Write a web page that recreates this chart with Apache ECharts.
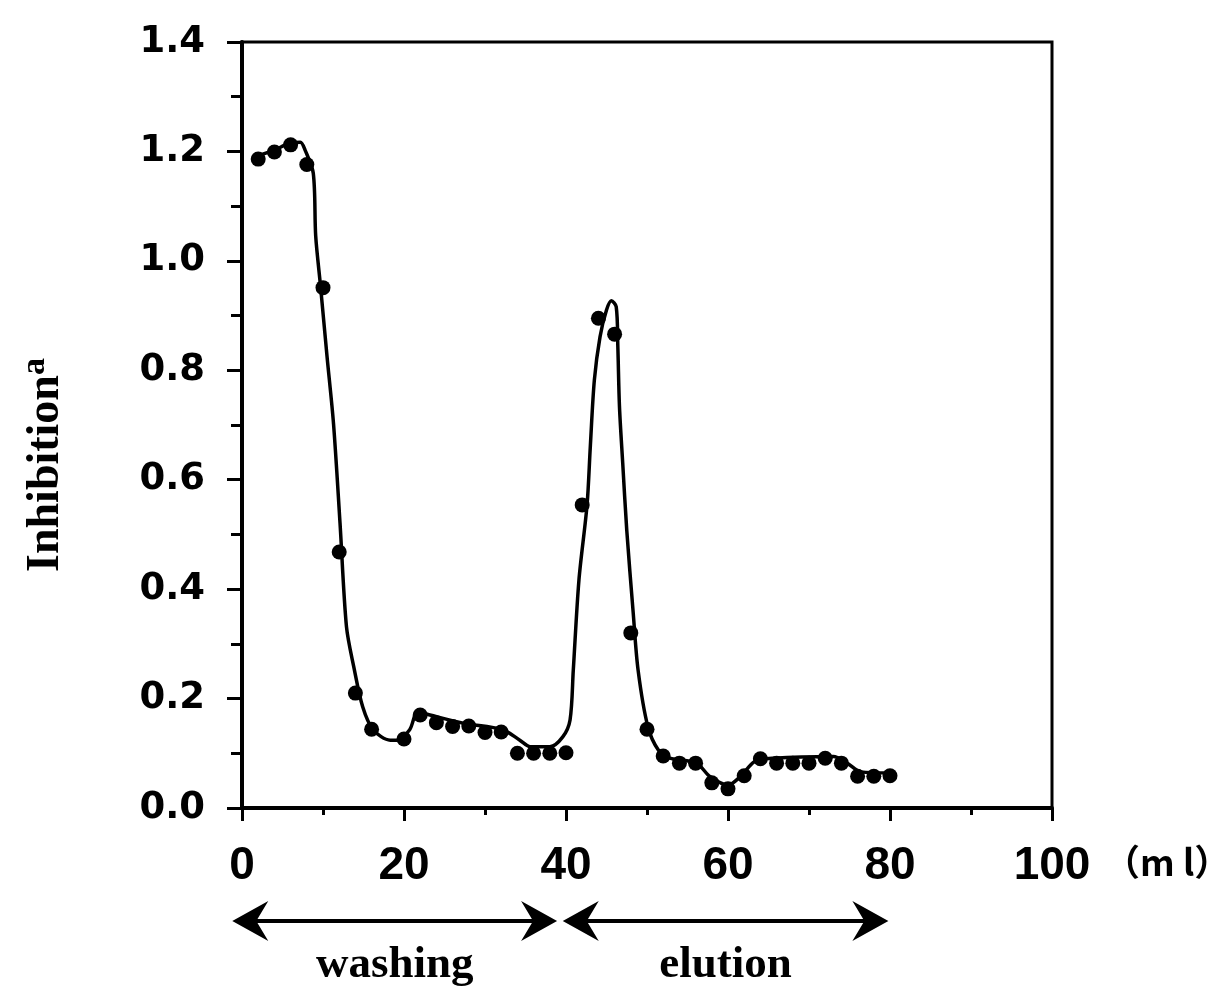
<!DOCTYPE html>
<html>
<head>
<meta charset="utf-8">
<title>Inhibition</title>
<script src="https://cdn.jsdelivr.net/npm/echarts@6/dist/echarts.min.js"></script>
<style>
  html, body { margin: 0; padding: 0; background: #fff; }
  #chart { width: 1229px; height: 1000px; }
</style>
</head>
<body>
<div id="chart"></div>
<script>
// measured fractions (ml, inhibition)
const volume = [2, 4, 6, 8, 10, 12, 14, 16,
  20, 22, 24, 26, 28, 30, 32, 34, 36, 38, 40,
  42, 44, 46, 48, 50, 52, 54, 56, 58, 60,
  62, 64, 66, 68, 70, 72, 74, 76, 78, 80]
const inhibition = [1.186, 1.199, 1.212, 1.176, 0.951, 0.468, 0.210, 0.144,
  0.126, 0.170, 0.156, 0.149, 0.150, 0.138, 0.139, 0.100, 0.100, 0.100, 0.101,
  0.554, 0.895, 0.866, 0.320, 0.144, 0.095, 0.082, 0.082, 0.046, 0.035,
  0.059, 0.090, 0.082, 0.082, 0.082, 0.091, 0.082, 0.058, 0.058, 0.059]

// fitted curve
const curveVolume = [1.4, 4.1, 6.0, 7.2, 7.8, 8.8, 9.1, 9.7, 10.5,
  11.3, 12.1, 12.9, 13.8, 14.9, 16.2, 18.3, 19.1, 20.7, 21.7,
  23.2, 27.3, 32.2, 34.3, 35.6, 38.0, 39.6, 40.5, 40.9, 41.6,
  42.6, 43.0, 43.5, 44.2, 45.0, 45.6, 46.2, 46.4, 46.6, 47.0,
  47.5, 48.3, 48.9, 50.1, 51.4, 52.8, 56.1, 57.8, 60.0, 61.5,
  63.3, 65.6, 73.0, 74.7, 76.4, 80.0]
const curveInhibition = [1.190, 1.203, 1.216, 1.217, 1.202, 1.160, 1.045, 0.953, 0.825,
  0.702, 0.521, 0.331, 0.258, 0.185, 0.143, 0.124, 0.124, 0.143, 0.176,
  0.170, 0.155, 0.143, 0.124, 0.112, 0.112, 0.130, 0.161, 0.252, 0.417,
  0.554, 0.660, 0.782, 0.861, 0.910, 0.927, 0.916, 0.843, 0.734, 0.631,
  0.508, 0.356, 0.252, 0.149, 0.106, 0.091, 0.082, 0.057, 0.042, 0.057,
  0.085, 0.091, 0.094, 0.082, 0.066, 0.064]

// phase arrows under the x axis (ml)
const phaseNames = ['washing', 'elution']
const phaseStart = [-1.2, 39.6]
const phaseEnd = [38.9, 79.8]

const INK = '#000'
const ARROW_Y = 921
const PHASE_TEXT_Y = 965

const chart = echarts.init(document.getElementById('chart'))

const points = volume.map((v, i) => [v, inhibition[i]])
const curve = curveVolume.map((v, i) => [v, curveInhibition[i]])

chart.setOption({
  backgroundColor: '#fff',
  animation: false,
  grid: {
    left: 242,
    top: 42,
    width: 810,
    height: 766,
    outerBoundsMode: 'none',
    show: true,
    borderColor: INK,
    borderWidth: 3
  },
  xAxis: {
    type: 'value',
    min: 0,
    max: 100,
    interval: 20,
    name: '（m l）',
    nameLocation: 'end',
    nameGap: 52,
    nameTextStyle: {
      fontFamily: 'Noto Sans CJK SC',
      fontWeight: 'bold',
      fontSize: 36,
      color: INK,
      verticalAlign: 'top',
      padding: [36, 0, 0, 0]
    },
    axisLine: { lineStyle: { color: INK, width: 4 } },
    axisTick: { length: 13, lineStyle: { color: INK, width: 3 } },
    minorTick: { show: true, splitNumber: 2, length: 7, lineStyle: { color: INK, width: 3 } },
    splitLine: { show: false },
    axisLabel: {
      margin: 35,
      fontFamily: '"Liberation Sans Narrow", "Liberation Sans"',
      fontWeight: 'bold',
      fontSize: 46,
      color: INK
    }
  },
  yAxis: {
    type: 'value',
    min: 0,
    max: 1.4,
    interval: 0.2,
    name: '{m|Inhibition}{s|a}',
    nameLocation: 'middle',
    nameRotate: 90,
    nameGap: 168,
    nameTextStyle: {
      padding: [0, 80, 0, 0],
      rich: {
        m: { fontFamily: '"Liberation Serif"', fontWeight: 'bold', fontSize: 46, color: INK, lineHeight: 56 },
        s: { fontFamily: '"Liberation Serif"', fontWeight: 'bold', fontSize: 34, color: INK, verticalAlign: 'top', lineHeight: 34 }
      }
    },
    axisLine: { lineStyle: { color: INK, width: 4 } },
    axisTick: { length: 15, lineStyle: { color: INK, width: 3 } },
    minorTick: { show: true, splitNumber: 2, length: 11, lineStyle: { color: INK, width: 3 } },
    splitLine: { show: false },
    axisLabel: {
      margin: 37,
      fontFamily: '"DejaVu Sans"',
      fontWeight: 'bold',
      fontSize: 37,
      color: INK,
      formatter: v => v.toFixed(1)
    }
  },
  series: [
    {
      name: 'fit',
      type: 'line',
      data: curve,
      smooth: 0.3,
      showSymbol: false,
      lineStyle: { color: INK, width: 3.5 },
      z: 2
    },
    {
      name: 'fractions',
      type: 'scatter',
      data: points,
      symbol: 'circle',
      symbolSize: 15,
      itemStyle: { color: INK, opacity: 1 },
      z: 3
    }
  ]
})

// arrows + phase labels, anchored to the x scale
const drawPhases = () => {
  const els = []
  phaseNames.forEach((name, i) => {
    const a = chart.convertToPixel({ gridIndex: 0 }, [phaseStart[i], 0])[0]
    const b = chart.convertToPixel({ gridIndex: 0 }, [phaseEnd[i], 0])[0]
    const y = ARROW_Y
    els.push({
      type: 'line',
      shape: { x1: a + 20, y1: y, x2: b - 20, y2: y },
      style: { stroke: INK, lineWidth: 4 }
    })
    els.push({
      type: 'polygon',
      shape: { points: [[a, y], [a + 36, y - 20], [a + 24, y], [a + 36, y + 20]] },
      style: { fill: INK }
    })
    els.push({
      type: 'polygon',
      shape: { points: [[b, y], [b - 36, y - 20], [b - 24, y], [b - 36, y + 20]] },
      style: { fill: INK }
    })
    els.push({
      type: 'text',
      x: (a + b) / 2,
      y: PHASE_TEXT_Y,
      style: {
        text: name,
        fontFamily: '"Liberation Serif"',
        fontWeight: 'bold',
        fontSize: 45,
        fill: INK,
        align: 'center',
        verticalAlign: 'middle'
      }
    })
  })
  chart.setOption({ graphic: els })
}

drawPhases()
</script>
</body>
</html>
